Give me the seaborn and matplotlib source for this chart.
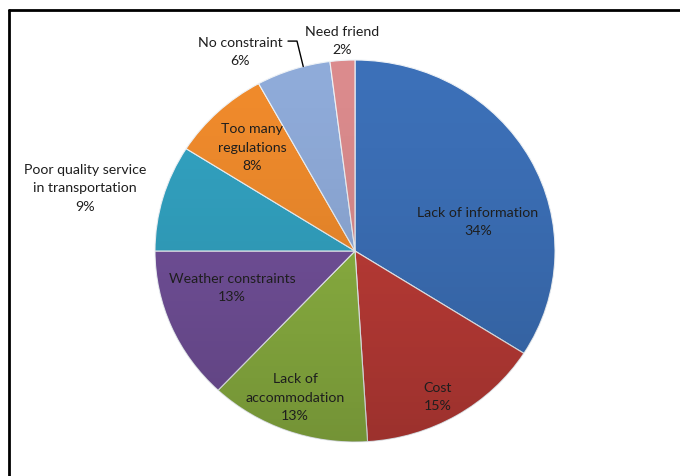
import numpy as np
import seaborn as sns
from matplotlib import pyplot as plt
from matplotlib.lines import Line2D
from matplotlib.patches import Circle

# survey answers, clockwise from 12 o'clock
categories = ['Lack of information', 'Cost', 'Lack of\naccommodation', 'Weather constraints',
              'Poor quality service\nin transportation', 'Too many\nregulations', 'No constraint', 'Need friend']
shares = [34, 15, 13, 13, 9, 8, 6, 2]

slice_colors = ['#3c70b8', '#be3c37', '#8db342', '#73519b', '#32a2c1', '#f08b2c', '#8fabd9', '#db8b8d']

# label anchors in pie units (x / radius_x, y / radius_y)
label_pos = [(0.615, 0.157), (0.415, -0.76), (-0.30, -0.764), (-0.615, -0.188),
             (-1.35, 0.335), (-0.515, 0.545), (-0.575, 1.047), (-0.065, 1.105)]

sns.set_theme(style='white', context='paper')
plt.rcParams['font.family'] = ['Lato', 'DejaVu Sans']

fig = plt.figure(figsize=(6.8, 4.77), dpi=100)
ax = fig.add_axes([0, 0, 1, 1])

wedges, _ = ax.pie(shares, colors=slice_colors, startangle=90, counterclock=False,
                   wedgeprops=dict(edgecolor='#eef2f6', linewidth=0.8))

# soft top-light / bottom-dark shading like the original bevel
grad = np.linspace(0, 1, 256).reshape(-1, 1)
shade = np.zeros((256, 1, 4))
shade[..., 3] = 0.18 * grad ** 1.5
img = ax.imshow(shade, extent=(-1, 1, -1, 1), origin='upper', aspect='auto', zorder=3)
img.set_clip_path(Circle((0, 0), 1, transform=ax.transData))

for name, val, (x, y) in zip(categories, shares, label_pos):
    ax.text(x, y, f'{name}\n{val}%', ha='center', va='center', fontsize=10.2,
            color='#1e1e1e', linespacing=1.65, zorder=5)

# leader line for the "No constraint" label
w = wedges[6]
mid = np.deg2rad((w.theta1 + w.theta2) / 2 - 3)
ax.add_line(Line2D([-0.335, -0.29, np.cos(mid)], [1.099, 1.099, np.sin(mid)],
                   color='black', linewidth=1.0, zorder=5))

ax.set_xlim(-355 / 200, 325 / 200)
ax.set_ylim(-225 / 191, 252 / 191)
ax.set_aspect('auto')
ax.axis('off')

# frame: left and top edges only
fig.add_artist(Line2D([9 / 680, 9 / 680], [0, 1 - 11 / 477], color='black', linewidth=2.0))
fig.add_artist(Line2D([9 / 680, 1], [1 - 11 / 477, 1 - 11 / 477], color='black', linewidth=2.0))

fig.savefig('out.png', dpi=100)
